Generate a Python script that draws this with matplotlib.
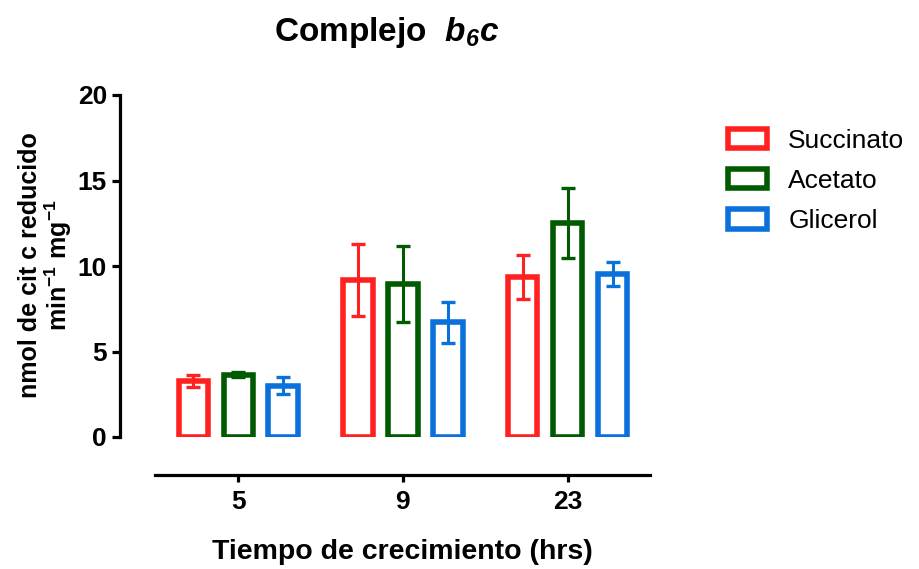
import numpy as np
import matplotlib.pyplot as plt
from matplotlib.patches import Patch

plt.rcParams['font.family'] = ['Liberation Sans', 'DejaVu Sans']
plt.rcParams['mathtext.fontset'] = 'custom'
plt.rcParams['mathtext.rm'] = 'Liberation Sans:bold'
plt.rcParams['mathtext.bf'] = 'Liberation Sans:bold'
plt.rcParams['mathtext.it'] = 'Liberation Sans:italic:bold'
plt.rcParams['mathtext.bfit'] = 'Liberation Sans:italic:bold'

times = ["5", "9", "23"]
series = ["Succinato", "Acetato", "Glicerol"]
means = {
    "Succinato": [3.25, 9.2, 9.35],
    "Acetato": [3.65, 8.95, 12.5],
    "Glicerol": [3.0, 6.7, 9.55],
}
errors = {
    "Succinato": [0.35, 2.1, 1.3],
    "Acetato": [0.15, 2.2, 2.05],
    "Glicerol": [0.5, 1.2, 0.7],
}
colors = {"Succinato": "#ff2020", "Acetato": "#005a00", "Glicerol": "#0a70dc"}

fig = plt.figure(figsize=(9.19, 5.69), dpi=100)
ax = fig.add_axes([155 / 919, 1 - 437 / 569, 495 / 919, 342 / 569])

x = np.arange(len(times))
offset = 0.273
width = 0.178
for i, name in enumerate(series):
    pos = x + (i - 1) * offset
    ax.bar(pos, means[name], width=width, facecolor="white", edgecolor=colors[name],
           linewidth=4.0, zorder=2)
    ax.errorbar(pos, means[name], yerr=errors[name], fmt="none", ecolor=colors[name],
                elinewidth=2.2, capsize=5.0, capthick=2.4, zorder=3)

ax.set_xlim(-0.505, 2.5)
ax.set_ylim(0, 20)
ax.set_yticks([0, 5, 10, 15, 20])
ax.set_xticks(x)
ax.set_xticklabels(times)

for s in ("top", "right"):
    ax.spines[s].set_visible(False)
ax.spines["left"].set_position(("outward", 25))
ax.spines["bottom"].set_position(("outward", 27.5))
ax.spines["left"].set_linewidth(2.3)
ax.spines["bottom"].set_linewidth(2.3)
ax.tick_params(axis="y", width=2.3, length=5.5, labelsize=19, pad=4)
ax.tick_params(axis="x", width=2.3, length=5, labelsize=19, pad=6)
for lab in ax.get_xticklabels() + ax.get_yticklabels():
    lab.set_fontweight("bold")

ax.set_xlabel("Tiempo de crecimiento (hrs)", fontsize=20.5, fontweight="bold", labelpad=18)
fig.text(46 / 919, 1 - 265 / 569, "nmol de cit c reducido\nmin$^{-1}$ mg$^{-1}$",
         rotation=90, ha="center", va="center", fontsize=18, fontweight="bold",
         linespacing=1.0, multialignment="center")

fig.text(387 / 919, 1 - 33 / 569, r"Complejo  $\mathbfit{b}_{\mathbfit{6}}\mathbfit{c}$",
         ha="center", va="center", fontsize=24, fontweight="bold")

handles = [Patch(facecolor="white", edgecolor=colors[n], linewidth=4.0, label=n) for n in series]
fig.legend(handles=handles, loc="upper left", bbox_to_anchor=(717 / 919, 1 - 118 / 569),
           frameon=False, fontsize=19, handlelength=1.5, handleheight=0.75,
           handletextpad=0.8, labelspacing=0.62, borderaxespad=0)

fig.savefig("out.png", dpi=100)
